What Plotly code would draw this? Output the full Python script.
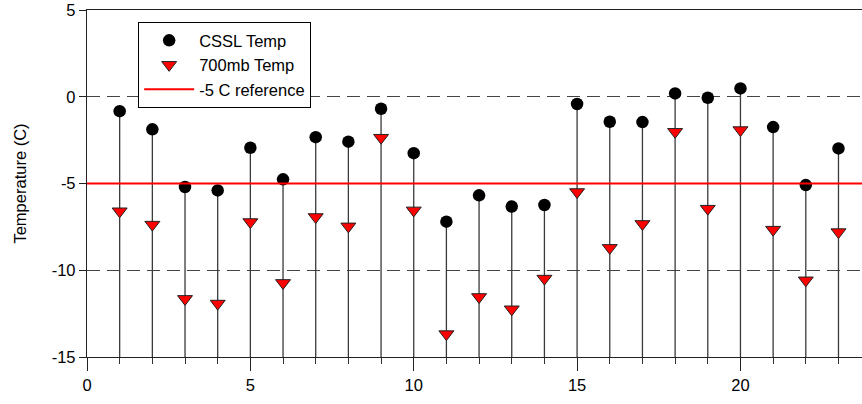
import plotly.graph_objects as go

# Data
days = list(range(1, 24))
cssl_temp = [-0.83, -1.88, -5.2, -5.4, -2.94, -4.76, -2.33, -2.59, -0.69, -3.25,
             -7.2, -5.68, -6.33, -6.24, -0.42, -1.44, -1.46, 0.19, -0.06, 0.48,
             -1.75, -5.09, -2.98]
mb700_temp = [-6.6, -7.37, -11.65, -11.92, -7.22, -10.73, -6.93, -7.47, -2.36, -6.55,
              -13.68, -11.54, -12.25, -10.48, -5.49, -8.71, -7.33, -2.02, -6.45, -1.92,
              -7.66, -10.58, -7.8]
reference_temp = -5
y_base = -15
x_range = [0, 23.72]
y_ticks = [5, 0, -5, -10, -15]
y_tick_labels = ["5", "0", "-5", "-10", "-15"]
x_ticks = [0, 5, 10, 15, 20]
x_tick_labels = ["0", "5", "10", "15", "20"]

FONT = "Liberation Sans, Arial, sans-serif"
FS = 16.5

fig = go.Figure()

# stems from bottom axis to CSSL point
stem_x, stem_y = [], []
for d, c in zip(days, cssl_temp):
    stem_x += [d, d, None]
    stem_y += [y_base, c, None]
fig.add_trace(go.Scatter(x=stem_x, y=stem_y, mode="lines",
                         line=dict(color="#3a3a3a", width=1.3),
                         showlegend=False, hoverinfo="skip"))

fig.add_trace(go.Scatter(x=days, y=cssl_temp, mode="markers", name="CSSL Temp",
                         marker=dict(symbol="circle", size=12.5, color="black")))
fig.add_trace(go.Scatter(x=days, y=mb700_temp, mode="markers", name="700mb Temp",
                         marker=dict(symbol="triangle-down", size=13, color="#ff0000",
                                     line=dict(color="#222222", width=1))))
fig.add_trace(go.Scatter(x=x_range, y=[reference_temp, reference_temp], mode="lines",
                         name="-5 C reference",
                         line=dict(color="#ff0000", width=2)))

fig.update_layout(
    width=862, height=404,
    margin=dict(l=87, r=0, t=10, b=47),
    plot_bgcolor="white", paper_bgcolor="white",
    font=dict(family=FONT, size=FS, color="black"),
    showlegend=True,
    legend=dict(x=0.066, y=0.965, xanchor="left", yanchor="top",
                bordercolor="black", borderwidth=1, bgcolor="white",
                font=dict(family=FONT, size=FS), tracegroupgap=0,
                itemwidth=50),
)
fig.update_xaxes(range=x_range, showgrid=False, zeroline=False,
                 showline=True, linecolor="#222222", linewidth=1.3, mirror=True,
                 tickvals=x_ticks, ticktext=x_tick_labels,
                 ticks="outside", ticklen=13, tickcolor="#222222", tickwidth=1.3,
                 minor=dict(dtick=1, tick0=0, ticks="outside", ticklen=6,
                            tickcolor="#333333", tickwidth=1.3, showgrid=False),
                 tickfont=dict(size=FS))
fig.update_yaxes(range=[-15, 5], showgrid=True, gridcolor="#444444", gridwidth=1.3,
                 griddash="13px,7px", zeroline=False,
                 showline=True, linecolor="#222222", linewidth=1.3,
                 tickvals=y_ticks, ticktext=y_tick_labels,
                 ticks="outside", ticklen=7, tickcolor="#222222", tickwidth=1.3,
                 tickfont=dict(size=FS),
                 title=dict(text="Temperature (C)", font=dict(size=FS), standoff=20))

fig.write_html("out.html", config={"displayModeBar": False},
               post_script="document.body.style.margin='0';")
